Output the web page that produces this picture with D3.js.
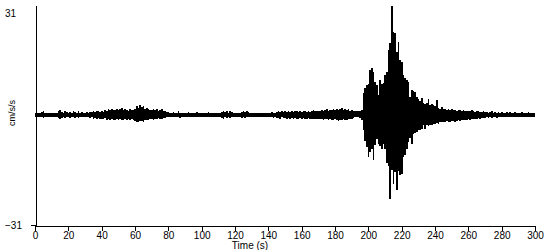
<!DOCTYPE html>
<html>
<head>
<meta charset="utf-8">
<script src="https://cdn.jsdelivr.net/npm/d3@7"></script>
<style>
  body { margin: 0; background: #fff; }
  text { font-family: "Liberation Sans", Arial, sans-serif; fill: #000; }
</style>
</head>
<body>
<div id="chart"></div>
<script>
// peak envelope per second (cm/s/s), t = 0..300 s
var peakHigh = [
  0.6,0.7,0.5,0.6,0.8,1.2,0.6,0.5,0.7,0.6,
  0.6,0.5,0.7,0.6,1.0,1.3,0.8,0.7,1.1,0.8,
  0.7,0.9,0.6,1.0,0.8,0.7,1.0,0.6,0.8,0.7,
  0.6,0.8,0.7,0.9,0.8,1.1,0.9,1.0,1.2,0.9,
  1.1,0.9,1.3,1.0,1.6,1.4,1.8,1.3,1.5,1.7,
  1.4,1.6,1.9,1.3,1.7,1.5,1.2,1.6,1.4,1.3,
  1.8,2.6,2.0,2.8,2.2,2.5,1.7,1.9,1.6,1.5,
  1.4,1.7,1.3,1.6,1.2,1.4,1.8,1.1,1.0,0.9,
  0.8,0.7,0.6,0.8,0.7,0.6,1.0,0.7,0.6,0.5,
  0.7,0.6,0.8,0.6,0.5,0.7,0.6,0.8,0.6,0.7,
  0.6,0.5,0.7,0.6,0.8,0.6,0.5,0.7,0.6,0.6,
  0.7,0.6,0.9,1.2,0.8,1.0,0.7,1.1,0.8,0.6,
  0.7,0.6,0.5,0.6,0.9,1.0,0.8,1.1,0.9,0.6,
  0.6,0.5,0.7,0.6,0.5,0.6,0.7,0.6,0.5,0.6,
  0.7,0.6,0.8,0.7,0.6,0.9,1.0,0.8,1.1,0.9,
  1.0,0.8,1.2,0.9,1.1,0.8,1.0,1.2,0.9,1.1,
  0.9,1.0,1.2,0.8,1.1,0.9,1.0,1.3,1.0,1.1,
  1.2,1.0,1.3,1.1,1.4,1.6,1.2,1.5,1.3,1.7,
  1.4,1.8,1.3,1.6,2.0,1.5,1.7,1.4,1.6,1.2,
  1.3,1.1,1.1,1.0,1.2,1.1,1.3,6.2,7.6,8.5,
  8.7,12.7,13.2,12.0,9.3,8.5,5.6,9.9,8.7,9.0,
  11.3,12.1,18.3,20.3,30.7,23.4,23.1,17.8,20.6,15.5,
  14.9,11.3,10.4,9.9,9.3,5.1,7.0,6.8,6.5,5.1,
  4.5,3.9,4.8,3.4,3.1,3.4,4.5,2.8,3.1,2.8,
  2.5,4.2,2.0,1.7,2.2,1.6,1.8,1.5,1.7,1.4,
  1.6,1.3,1.5,1.2,1.4,1.3,1.1,1.4,1.2,1.0,
  1.2,1.0,1.3,1.1,0.9,1.0,1.2,0.9,0.8,1.0,
  0.8,0.9,0.7,0.8,1.0,0.7,0.8,0.6,0.9,0.7,
  0.8,0.7,0.6,0.8,0.7,0.9,0.6,0.7,0.8,0.6,
  0.7,0.6,0.8,0.7,0.6,0.7,0.8,0.6,0.7,0.6,
  0.6
];
var peakLow = [
  -0.5,-0.6,-0.5,-0.7,-0.6,-0.8,-0.5,-0.6,-0.5,-0.6,
  -0.5,-0.6,-0.7,-0.5,-0.9,-1.1,-0.8,-0.6,-0.9,-0.7,
  -0.6,-0.8,-0.6,-0.7,-0.9,-0.6,-0.8,-0.6,-0.7,-0.6,
  -0.6,-0.7,-0.6,-0.9,-0.7,-1.0,-0.8,-1.1,-0.9,-1.0,
  -1.0,-1.2,-0.9,-1.3,-1.1,-1.4,-1.2,-1.5,-1.3,-1.2,
  -1.4,-1.1,-1.3,-1.5,-1.2,-1.4,-1.1,-1.3,-1.2,-1.4,
  -1.6,-1.9,-2.1,-1.8,-1.6,-1.9,-1.4,-1.3,-1.5,-1.2,
  -1.1,-1.3,-1.0,-1.2,-0.9,-1.1,-1.0,-0.8,-0.9,-0.7,
  -0.6,-0.7,-0.5,-0.6,-0.7,-0.5,-0.6,-0.8,-0.5,-0.6,
  -0.6,-0.5,-0.6,-0.7,-0.5,-0.6,-0.5,-0.7,-0.6,-0.5,
  -0.6,-0.5,-0.6,-0.5,-0.7,-0.6,-0.5,-0.6,-0.5,-0.6,
  -0.6,-0.7,-0.8,-1.0,-0.7,-0.9,-0.6,-0.8,-0.7,-0.6,
  -0.5,-0.6,-0.5,-0.7,-0.8,-0.6,-0.9,-0.7,-0.6,-0.5,
  -0.6,-0.5,-0.6,-0.5,-0.6,-0.5,-0.6,-0.5,-0.6,-0.5,
  -0.6,-0.7,-0.6,-0.8,-0.7,-0.9,-0.8,-1.0,-0.7,-0.9,
  -0.8,-1.0,-0.9,-1.1,-0.8,-1.0,-0.9,-1.2,-1.0,-0.9,
  -1.1,-0.9,-1.0,-1.2,-0.9,-1.1,-1.0,-1.2,-1.1,-1.0,
  -1.2,-1.0,-1.1,-1.3,-1.0,-1.2,-1.4,-1.1,-1.3,-1.5,
  -1.2,-1.4,-1.6,-1.3,-1.5,-1.2,-1.4,-1.3,-1.1,-1.2,
  -1.0,-0.9,-0.6,-0.7,-0.6,-0.9,-1.3,-4.2,-7.3,-9.0,
  -11.8,-10.4,-9.6,-12.7,-8.5,-6.8,-8.2,-8.7,-9.6,-8.2,
  -9.6,-13.5,-14.4,-23.7,-15.5,-19.5,-16.0,-21.1,-15.8,-16.9,
  -16.6,-11.8,-11.3,-9.6,-7.6,-6.5,-8.2,-5.4,-5.1,-4.8,
  -4.2,-4.2,-3.9,-2.8,-3.9,-2.8,-3.1,-2.8,-2.8,-2.5,
  -2.4,-2.3,-2.4,-2.0,-2.1,-1.9,-2.0,-1.8,-1.9,-1.9,
  -1.8,-1.7,-1.9,-1.6,-1.5,-1.7,-1.4,-1.5,-1.3,-1.4,
  -1.2,-1.3,-1.1,-1.2,-1.0,-1.1,-0.9,-1.0,-0.8,-0.9,
  -0.8,-0.7,-0.9,-0.7,-0.8,-0.6,-0.7,-0.8,-0.6,-0.7,
  -0.6,-0.7,-0.5,-0.6,-0.7,-0.5,-0.6,-0.7,-0.5,-0.6,
  -0.6,-0.5,-0.6,-0.7,-0.5,-0.6,-0.5,-0.6,-0.7,-0.5,
  -0.6
];
var xTicks = [0,20,40,60,80,100,120,140,160,180,200,220,240,260,280,300];
var yTicks = [-31, 31];
var xTitle = "Time (s)";
var yTitle = "cm/s/s";

var width = 550, height = 250;

var svg = d3.select("#chart").append("svg").attr("width", width).attr("height", height);

var x = d3.scaleLinear().domain([0, 300]).range([35, 535]);
var y = d3.scaleLinear().domain([-31, 31]).range([225, 5]);

var data = peakHigh.map(function (h, i) { return { t: i, hi: h, lo: peakLow[i] }; });

// trace envelope
var area = d3.area()
    .x(function (d) { return x(d.t); })
    .y0(function (d) { return y(d.lo); })
    .y1(function (d) { return y(d.hi); })
    .curve(d3.curveStep);

svg.append("path").datum(data).attr("d", area)
    .attr("fill", "#000").attr("shape-rendering", "crispEdges");

// x axis
var xAxis = svg.append("g").attr("transform", "translate(0,225.5)")
    .call(d3.axisBottom(x).tickValues(xTicks).tickSize(5).tickSizeOuter(0));
xAxis.selectAll("path, line").attr("stroke", "#000").attr("shape-rendering", "crispEdges");
xAxis.selectAll("text").attr("font-size", 10).attr("dy", "0.71em").attr("y", 6)
    .style("font-family", "'Liberation Sans', Arial, sans-serif");

// y axis
var yAxis = svg.append("g").attr("transform", "translate(35.5,0)")
    .call(d3.axisLeft(y).tickValues(yTicks).tickSize(5).tickSizeOuter(0));
yAxis.selectAll("path, line").attr("stroke", "#000").attr("shape-rendering", "crispEdges");
yAxis.selectAll(".tick").filter(function (d) { return d > 0; }).select("line").remove();
yAxis.selectAll("text").attr("font-size", 10).attr("text-anchor", "start").attr("x", -30.5)
    .style("font-family", "'Liberation Sans', Arial, sans-serif")
    .attr("dy", function (d) { return d > 0 ? "1.1em" : "0.32em"; });

// titles
svg.append("text").attr("x", 250).attr("y", 249).attr("text-anchor", "middle")
    .attr("font-size", 10).text(xTitle);
svg.append("text").attr("transform", "translate(15,113) rotate(-90)").attr("text-anchor", "middle")
    .attr("font-size", 9).text(yTitle);
</script>
</body>
</html>
